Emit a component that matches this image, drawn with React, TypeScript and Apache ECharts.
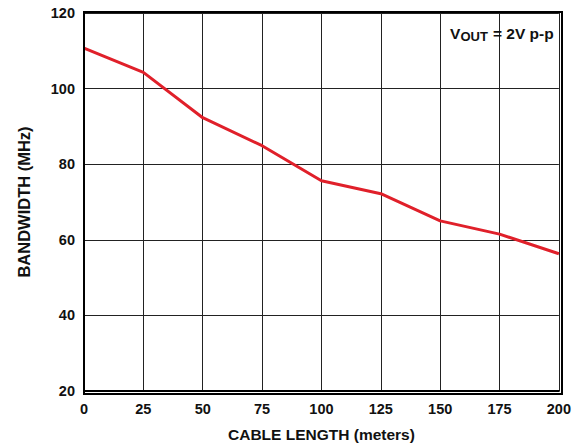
import React, { useEffect, useRef } from "react";
import * as echarts from "echarts";

const cableLength = [0, 25, 50, 75, 100, 125, 150, 175, 200];
const bandwidth = [110.7, 104.3, 92.3, 84.9, 75.6, 72.2, 65.0, 61.5, 56.3];
const xTicks = { min: 0, max: 200, interval: 25 };
const yTicks = { min: 20, max: 120, interval: 20 };

const FONT = "'Liberation Sans', Arial, sans-serif";

export default function App() {
  const ref = useRef<HTMLDivElement>(null);
  useEffect(() => {
    if (!ref.current) return;
    const chart = echarts.init(ref.current, null, { renderer: "svg" });
    chart.setOption({
      animation: false,
      textStyle: { fontFamily: FONT },
      grid: { left: 84, right: 12, top: 13, bottom: 53, containLabel: false },
      xAxis: {
        type: "value",
        min: xTicks.min,
        max: xTicks.max,
        interval: xTicks.interval,
        name: "CABLE LENGTH (meters)",
        nameLocation: "middle",
        nameGap: 35,
        nameTextStyle: { fontFamily: FONT, fontWeight: "bold", fontSize: 15.5, color: "#111" },
        axisLine: { show: true, lineStyle: { color: "#000", width: 2 } },
        axisTick: { show: false },
        axisLabel: { fontFamily: FONT, fontWeight: "bold", fontSize: 14.5, color: "#111", margin: 10, showMaxLabel: true, showMinLabel: true },
        splitLine: { show: true, lineStyle: { color: "#222", width: 1 } },
      },
      yAxis: {
        type: "value",
        min: yTicks.min,
        max: yTicks.max,
        interval: yTicks.interval,
        name: "BANDWIDTH (MHz)",
        nameLocation: "middle",
        nameGap: 52,
        nameTextStyle: { fontFamily: FONT, fontWeight: "bold", fontSize: 16.5, color: "#111" },
        axisLine: { show: true, lineStyle: { color: "#000", width: 2 } },
        axisTick: { show: false },
        axisLabel: { fontFamily: FONT, fontWeight: "bold", fontSize: 14.5, color: "#111", margin: 9 },
        splitLine: { show: true, lineStyle: { color: "#222", width: 1 } },
      },
      graphic: [
        {
          type: "rect",
          shape: { x: 84, y: 12, width: 478, height: 382 },
          style: { fill: "none", stroke: "#000", lineWidth: 2 },
          z: 10,
          silent: true,
        },
        {
          type: "text",
          x: 450,
          y: 25.5,
          z: 20,
          style: { text: "V", fontFamily: FONT, fontWeight: "bold", fontSize: 15.5, fill: "#111" },
        },
        {
          type: "text",
          x: 460.5,
          y: 30,
          z: 20,
          style: { text: "OUT", fontFamily: FONT, fontWeight: "bold", fontSize: 13, fill: "#111" },
        },
        {
          type: "text",
          x: 493,
          y: 25.5,
          z: 20,
          style: { text: "= 2V p-p", fontFamily: FONT, fontWeight: "bold", fontSize: 15.5, fill: "#111" },
        },
      ],
      series: [
        {
          type: "line",
          data: cableLength.map((x, i) => [x, bandwidth[i]]),
          showSymbol: false,
          symbol: "none",
          lineStyle: { color: "#e0202a", width: 3 },
          z: 5,
        },
      ],
    });
    return () => chart.dispose();
  }, []);
  return <div ref={ref} style={{ width: 574, height: 447, position: "absolute", left: 0, top: 0 }} />;
}
